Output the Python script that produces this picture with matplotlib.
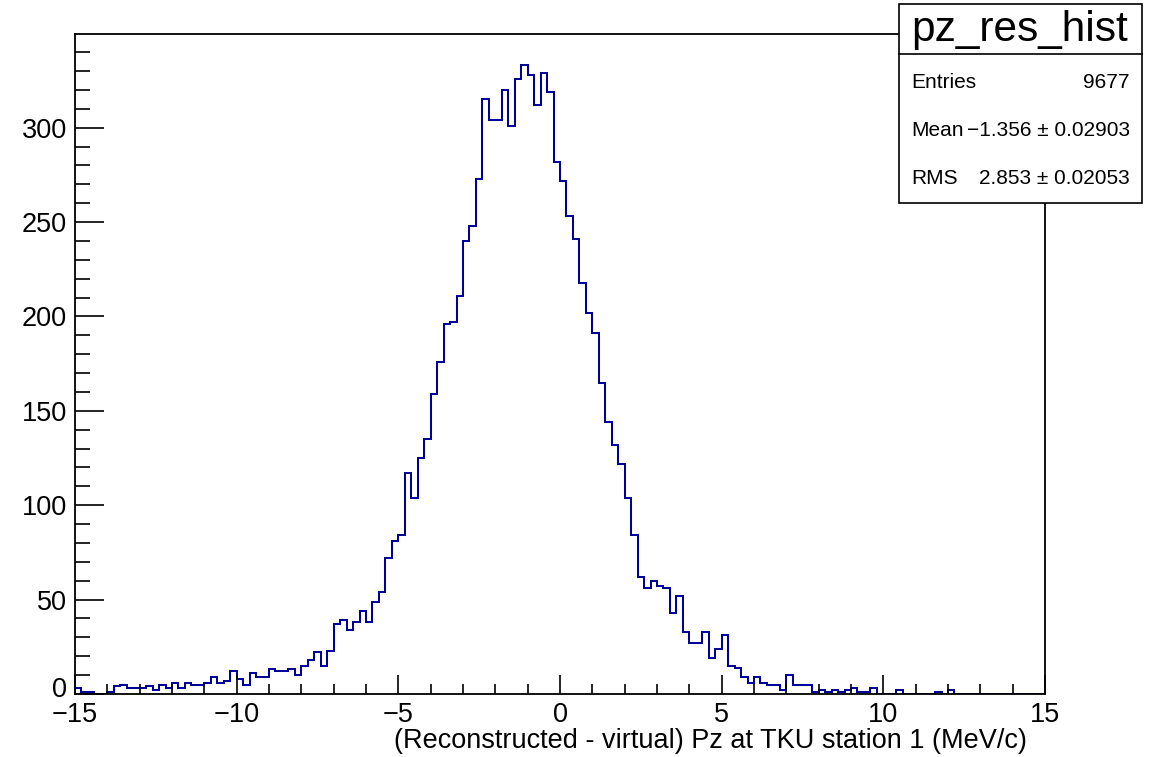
import numpy as np
import matplotlib
matplotlib.use("Agg")
import matplotlib.pyplot as plt
from matplotlib.patches import Rectangle
from matplotlib.lines import Line2D
from matplotlib.ticker import MultipleLocator, FuncFormatter

plt.rcParams['font.family'] = ['Liberation Sans', 'DejaVu Sans']

# histogram contents, 150 bins of 0.2 MeV/c from -15 to 15
counts = [
    3, 1, 1, 0, 0, 1, 4, 5, 3, 3,
    3, 4, 2, 5, 3, 6, 3, 6, 5, 5,
    6, 9, 6, 7, 12, 8, 5, 11, 9, 9,
    13, 12, 12, 13, 10, 15, 18, 22, 15, 23,
    37, 39, 34, 38, 44, 38, 49, 54, 72, 81,
    84, 117, 104, 125, 135, 159, 176, 196, 197, 211,
    240, 248, 273, 315, 304, 304, 320, 301, 326, 333,
    328, 312, 329, 319, 282, 272, 253, 241, 218, 202,
    191, 165, 144, 132, 122, 104, 84, 62, 56, 60,
    57, 56, 43, 52, 33, 27, 27, 33, 19, 24,
    31, 15, 14, 9, 6, 9, 6, 5, 5, 2,
    10, 5, 5, 5, 1, 2, 1, 2, 1, 2,
    3, 1, 1, 3, 0, 0, 0, 2, 0, 0,
    0, 0, 0, 1, 0, 2, 0, 0, 0, 0,
    0, 0, 0, 0, 0, 0, 0, 0, 0, 0,
]
x_lo, x_hi, nbins = -15, 15, 150

hist_name = "pz_res_hist"
stat_names = ["Entries", "Mean", "RMS"]
stat_values = ["9677", "\u22121.356 \u00b1 0.02903", "2.853 \u00b1 0.02053"]
xlabel = "(Reconstructed - virtual) Pz at TKU station 1 (MeV/c)"

W, H = 1160, 757
fig = plt.figure(figsize=(W / 100, H / 100), dpi=100)
ax = fig.add_axes([75 / W, 1 - 694 / H, 970 / W, 660 / H])

edges = np.linspace(x_lo, x_hi, nbins + 1)
ax.stairs(counts, edges, color="#000099", lw=1.45)

ax.set_xlim(x_lo, x_hi)
ax.set_ylim(0, max(counts) * 1.05)

ax.xaxis.set_major_locator(MultipleLocator(5))
ax.xaxis.set_minor_locator(MultipleLocator(1))
ax.yaxis.set_major_locator(MultipleLocator(50))
ax.yaxis.set_minor_locator(MultipleLocator(10))
# the y "0" is written by hand below, nudged up so it clears "-15"
ax.yaxis.set_major_formatter(FuncFormatter(lambda v, p: "" if v == 0 else f"{v:g}"))
ax.tick_params(axis="both", which="both", direction="in", width=1.2,
               labelsize=19.5, top=False, right=False)
ax.tick_params(axis="x", which="major", length=14, pad=6)
ax.tick_params(axis="x", which="minor", length=7)
ax.tick_params(axis="y", which="major", length=21, pad=6)
ax.tick_params(axis="y", which="minor", length=10.5)
for sp in ax.spines.values():
    sp.set_linewidth(1.3)

ax.annotate("0", xy=(0, 0), xycoords=("axes fraction", "data"),
            xytext=(-6, 3), textcoords="offset points",
            ha="right", va="center", fontsize=19.5)

fig.text(1027 / W, 1 - 741 / H, xlabel, ha="right", va="center", fontsize=19.5)

# stats box
def fx(px):
    return px / W

def fy(py):
    return 1 - py / H

box = Rectangle((fx(899), fy(203)), fx(1142) - fx(899), fy(4) - fy(203),
                transform=fig.transFigure, facecolor="white", edgecolor="black",
                lw=1.2, zorder=5)
fig.add_artist(box)
fig.add_artist(Line2D([fx(899), fx(1142)], [fy(54), fy(54)],
                      transform=fig.transFigure, color="black", lw=1.2, zorder=6))
fig.text(fx(1020), fy(30), hist_name, ha="center", va="center", fontsize=30.5, zorder=7)
rows_y = [83, 131, 179]
for name, val, ry in zip(stat_names, stat_values, rows_y):
    fig.text(fx(911), fy(ry), name, ha="left", va="center", fontsize=15, zorder=7)
    fig.text(fx(1130), fy(ry), val, ha="right", va="center", fontsize=15, zorder=7)

fig.savefig("out.png", dpi=100)
